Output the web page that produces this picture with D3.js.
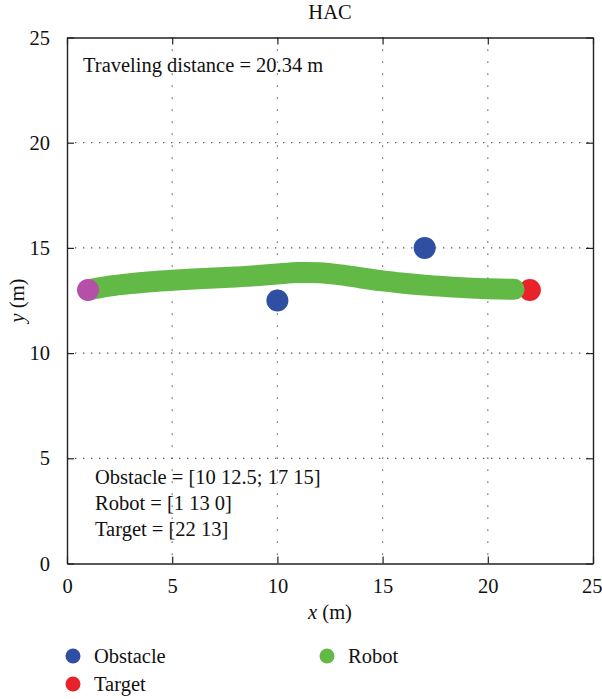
<!DOCTYPE html>
<html>
<head>
<meta charset="utf-8">
<script src="https://cdn.jsdelivr.net/npm/d3@7"></script>
<style>
  body { margin: 0; background: #fff; }
</style>
</head>
<body>
<svg id="chart" width="602" height="699"></svg>
<script>
// Robot trajectory (x, y) in metres
const pathX = [1, 2, 3, 4, 5, 6, 7, 8, 9, 10, 11, 12, 13, 14, 15, 16, 17, 18, 19, 20, 21.25];
const pathY = [13.0, 13.18, 13.3, 13.39, 13.46, 13.52, 13.57, 13.62, 13.68, 13.76, 13.83, 13.82, 13.72, 13.57, 13.43, 13.32, 13.23, 13.16, 13.1, 13.06, 13.03];

// Obstacles, start and target
const obstacleX = [10, 17];
const obstacleY = [12.5, 15];
const robotStart = [1, 13];
const target = [22, 13];

const ticks = [0, 5, 10, 15, 20, 25];
const gridTicks = [5, 10, 15, 20];
const infoLines = ["Obstacle = [10 12.5; 17 15]", "Robot = [1 13 0]", "Target = [22 13]"];
const legendNames = ["Obstacle", "Robot", "Target"];
const colors = { Obstacle: "#2f4fa2", Robot: "#63b946", Target: "#e8212b", Start: "#b54fa9" };

const FONT = "'Liberation Serif', 'Times New Roman', Times, serif";

const svg = d3.select("#chart");
const margin = { left: 67, top: 37.5, right: 9, bottom: 135.5 };
const W = 602 - margin.left - margin.right;
const H = 699 - margin.top - margin.bottom;

const x = d3.scaleLinear().domain([0, 25]).range([0, W]);
const y = d3.scaleLinear().domain([0, 25]).range([H, 0]);

const g = svg.append("g").attr("transform", `translate(${margin.left},${margin.top})`);

// dotted grid
g.append("g").selectAll("line.v").data(gridTicks).join("line")
  .attr("x1", d => x(d)).attr("x2", d => x(d)).attr("y1", 0).attr("y2", H)
  .attr("stroke", "#555").attr("stroke-width", 1.3).attr("stroke-dasharray", "1.3,10.7");
g.append("g").selectAll("line.h").data(gridTicks).join("line")
  .attr("y1", d => y(d)).attr("y2", d => y(d)).attr("x1", 0).attr("x2", W)
  .attr("stroke", "#555").attr("stroke-width", 1.3).attr("stroke-dasharray", "1.3,6.7");

// axes with inward ticks on all four sides
const styleAxis = sel => {
  sel.attr("font-family", FONT).attr("font-size", 20);
  sel.select(".domain").attr("stroke", "#222").attr("stroke-width", 1.4);
  sel.selectAll(".tick line").attr("stroke", "#222").attr("stroke-width", 1.2);
  sel.selectAll(".tick text").attr("font-family", FONT).attr("font-size", 20.5).attr("fill", "#111");
};
const xAxisG = g.append("g").attr("transform", `translate(0,${H})`)
  .call(d3.axisBottom(x).tickValues(ticks).tickSize(-7).tickPadding(15).tickSizeOuter(0))
  .call(styleAxis);
// keep the last label inside the page edge
xAxisG.selectAll(".tick text").filter(d => d === 25).attr("text-anchor", "end").attr("dx", 9);
g.append("g")
  .call(d3.axisLeft(y).tickValues(ticks).tickSize(-7).tickPadding(17).tickSizeOuter(0))
  .call(styleAxis);
g.append("g")
  .call(d3.axisTop(x).tickValues(ticks).tickSize(-7).tickFormat("").tickSizeOuter(0))
  .call(styleAxis);
g.append("g").attr("transform", `translate(${W},0)`)
  .call(d3.axisRight(y).tickValues(ticks).tickSize(-7).tickFormat("").tickSizeOuter(0))
  .call(styleAxis);

// target (under the trajectory)
g.append("circle").attr("cx", x(target[0])).attr("cy", y(target[1])).attr("r", 11).attr("fill", colors.Target);

// trajectory
const pts = pathX.map((v, i) => [v, pathY[i]]);
g.append("path").datum(pts)
  .attr("d", d3.line().x(d => x(d[0])).y(d => y(d[1])).curve(d3.curveCatmullRom))
  .attr("fill", "none").attr("stroke", colors.Robot).attr("stroke-width", 21)
  .attr("stroke-linecap", "round").attr("stroke-linejoin", "round");

// start position
g.append("circle").attr("cx", x(robotStart[0])).attr("cy", y(robotStart[1])).attr("r", 11).attr("fill", colors.Start);

// obstacles
g.selectAll("circle.obs").data(obstacleX).join("circle")
  .attr("cx", d => x(d)).attr("cy", (d, i) => y(obstacleY[i])).attr("r", 11).attr("fill", colors.Obstacle);

const txt = (sel) => sel.attr("font-family", FONT).attr("font-size", 20.5).attr("fill", "#111");

// annotations
g.append("text").attr("x", 16).attr("y", 34).call(txt).text("Traveling distance = 20.34 m");
g.selectAll("text.info").data(infoLines).join("text")
  .attr("x", 28).attr("y", (d, i) => 446 + i * 26).call(txt).text(d => d);

// title and axis labels
svg.append("text").attr("x", margin.left + W / 2).attr("y", 19).attr("text-anchor", "middle")
  .call(txt).text("HAC");
const xl = svg.append("text").attr("x", margin.left + W / 2).attr("y", 619).attr("text-anchor", "middle").call(txt);
xl.append("tspan").attr("font-style", "italic").text("x");
xl.append("tspan").text(" (m)");
const yl = svg.append("text").attr("transform", `translate(24,${margin.top + H / 2}) rotate(-90)`)
  .attr("text-anchor", "middle").call(txt);
yl.append("tspan").attr("font-style", "italic").text("y");
yl.append("tspan").text(" (m)");

// legend
const legendPos = [[73, 656], [327, 656], [73, 684]];
const lg = svg.append("g").selectAll("g").data(legendNames).join("g")
  .attr("transform", (d, i) => `translate(${legendPos[i][0]},${legendPos[i][1]})`);
lg.append("circle").attr("r", 7.5).attr("fill", d => colors[d]);
lg.append("text").attr("x", 21).attr("y", 7).call(txt).text(d => d);
</script>
</body>
</html>
